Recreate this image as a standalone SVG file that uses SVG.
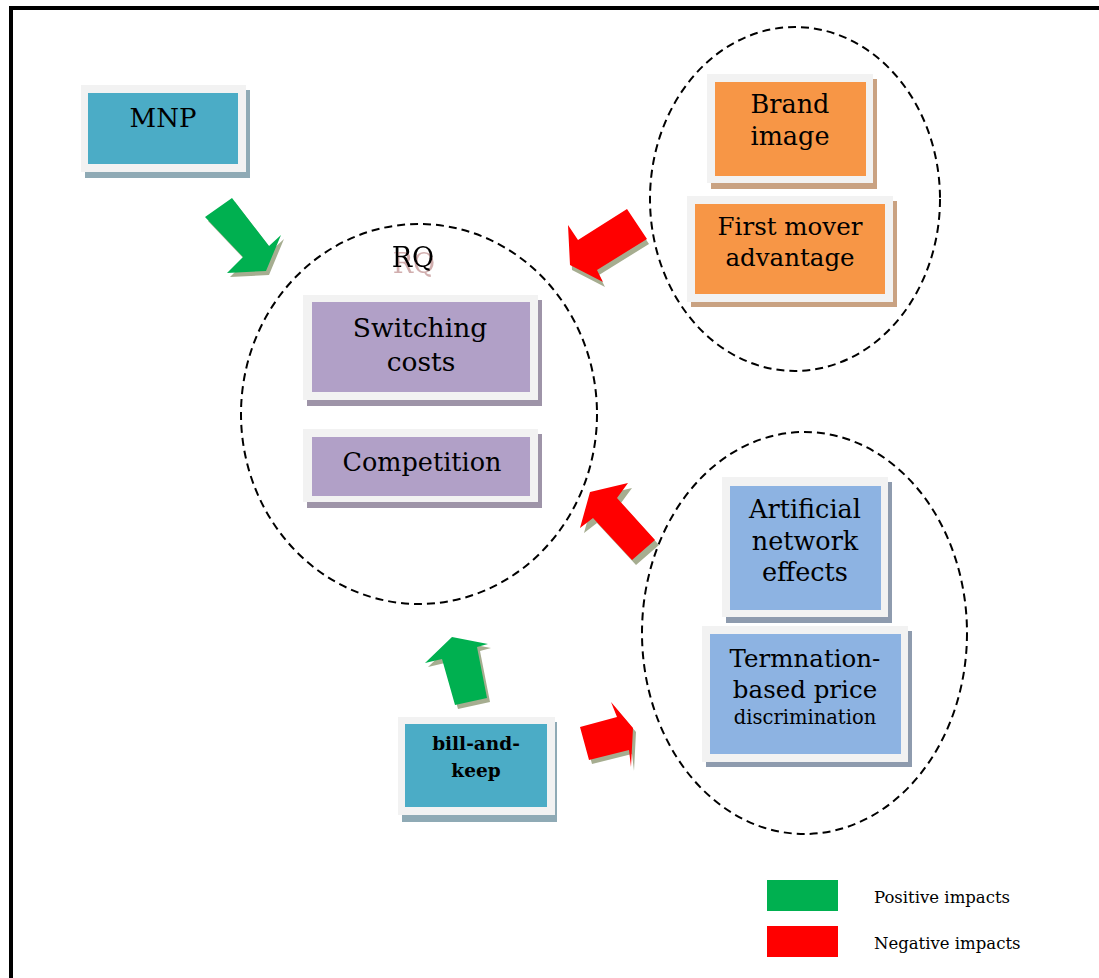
<svg xmlns="http://www.w3.org/2000/svg" width="1099" height="978" viewBox="0 0 1099 978">
<defs>
<filter id="rqshadow" x="-20%" y="-20%" width="140%" height="160%">
<feOffset in="SourceAlpha" dx="1" dy="6" result="off"/>
<feFlood flood-color="#c9a0a0" flood-opacity="0.85"/>
<feComposite in2="off" operator="in" result="sh"/>
<feMerge><feMergeNode in="sh"/><feMergeNode in="SourceGraphic"/></feMerge>
</filter>
</defs>
<style>
.frame{fill:#f2f2f2}
.t{font-family:"DejaVu Serif","Liberation Serif",serif;fill:#000;text-anchor:middle}
.big{font-size:25.5px}
.ell{fill:none;stroke:#000;stroke-width:2;stroke-dasharray:8 5}
.ashadow{fill:#a6ad90}
.green{fill:#00b050}
.red{fill:#ff0000}
</style>
<rect width="1099" height="978" fill="#fff"/>
<path d="M11 978 V8 H1099" fill="none" stroke="#000" stroke-width="4"/>

<g id="ellipses">
<ellipse class="ell" cx="419" cy="414" rx="178" ry="190"/>
<ellipse class="ell" cx="795" cy="199" rx="145" ry="172"/>
<ellipse class="ell" cx="804.5" cy="633" rx="162.5" ry="201"/>
</g>

<g id="rq-label">
<text class="t" x="413" y="267" font-size="27" filter="url(#rqshadow)">RQ</text>
</g>

<g id="mnp">
<rect x="85" y="90" width="165" height="88" fill="#8faab5"/>
<rect class="frame" x="81" y="85" width="165" height="87"/>
<rect x="88" y="93" width="150" height="71" fill="#4bacc6"/>
<text class="t" x="163" y="127" font-size="26">MNP</text>
</g>

<g id="switching">
<rect x="307" y="300" width="235" height="106" fill="#9e94a8"/>
<rect class="frame" x="303" y="295" width="235" height="105"/>
<rect x="312" y="302" width="218" height="90" fill="#b1a0c7"/>
<text class="t" x="420" y="337" font-size="26.5">Switching</text>
<text class="t" x="421" y="371" font-size="26.5">costs</text>
</g>

<g id="competition">
<rect x="307" y="434" width="235" height="74" fill="#9e94a8"/>
<rect class="frame" x="303" y="429" width="235" height="73"/>
<rect x="312" y="437" width="218" height="59" fill="#b1a0c7"/>
<text class="t big" x="422" y="471">Competition</text>
</g>

<g id="brand">
<rect x="711" y="79" width="166" height="110" fill="#c9a282"/>
<rect class="frame" x="707" y="74" width="166" height="109"/>
<rect x="715" y="82" width="151" height="94" fill="#f79646"/>
<text class="t big" x="790" y="113">Brand</text>
<text class="t big" x="790" y="145">image</text>
</g>

<g id="firstmover">
<rect x="691" y="201" width="206" height="106" fill="#c9a282"/>
<rect class="frame" x="687" y="196" width="206" height="106"/>
<rect x="695" y="204" width="190" height="90" fill="#f79646"/>
<text class="t" x="790" y="235" font-size="24.5">First mover</text>
<text class="t" x="790" y="266" font-size="24.5">advantage</text>
</g>

<g id="artificial">
<rect x="726" y="482" width="166" height="141" fill="#8e9bae"/>
<rect class="frame" x="722" y="477" width="166" height="140"/>
<rect x="730" y="486" width="151" height="124" fill="#8db3e2"/>
<text class="t big" x="805" y="518">Artificial</text>
<text class="t big" x="805" y="550">network</text>
<text class="t big" x="805" y="581">effects</text>
</g>

<g id="termination">
<rect x="706" y="631" width="206" height="136" fill="#8e9bae"/>
<rect class="frame" x="702" y="626" width="206" height="136"/>
<rect x="710" y="634" width="191" height="120" fill="#8db3e2"/>
<text class="t" x="805" y="667" font-size="24.5">Termnation-</text>
<text class="t" x="805" y="698" font-size="24.5">based price</text>
<text class="t" x="805" y="724" font-size="19.5">discrimination</text>
</g>

<g id="billandkeep">
<rect x="402" y="722" width="155" height="100" fill="#8faab5"/>
<rect class="frame" x="398" y="717" width="157" height="98"/>
<rect x="405" y="724" width="142" height="83" fill="#4bacc6"/>
<text class="t" x="476" y="750" font-size="18.5" font-weight="bold">bill-and-</text>
<text class="t" x="476" y="777" font-size="18.5" font-weight="bold">keep</text>
</g>

<g id="connectors">
<polygon class="ashadow" transform="translate(3,4)" points="205,217 232,198 269,246 281,235 266,271 227,273 243,257"/>
<polygon class="green" points="205,217 232,198 269,246 281,235 266,271 227,273 243,257"/>
<polygon class="ashadow" transform="translate(2,5)" points="627,209 647,239 597,270 603,282 570,265 568,225 578,240"/>
<polygon class="red" points="627,209 647,239 597,270 603,282 570,265 568,225 578,240"/>
<polygon class="ashadow" transform="translate(4,5)" points="590,492 628,483 617,498 655,540 632,560 593,518 580,528"/>
<polygon class="red" points="590,492 628,483 617,498 655,540 632,560 593,518 580,528"/>
<polygon class="ashadow" transform="translate(3,4)" points="455,705 487,698 477,647 488,644 452,637 425,663 442,659"/>
<polygon class="green" points="455,705 487,698 477,647 488,644 452,637 425,663 442,659"/>
<polygon class="ashadow" transform="translate(3,4)" points="580,727 617,717 611,702 633,728 631,767 629,750 589,760"/>
<polygon class="red" points="580,727 617,717 611,702 633,728 631,767 629,750 589,760"/>
</g>

<g id="legend">
<rect x="767" y="880" width="71" height="31" class="green"/>
<rect x="767" y="926" width="71" height="31" class="red"/>
<text class="t" x="874" y="903" font-size="16.5" style="text-anchor:start">Positive impacts</text>
<text class="t" x="874" y="949" font-size="16.5" style="text-anchor:start">Negative impacts</text>
</g>
</svg>
